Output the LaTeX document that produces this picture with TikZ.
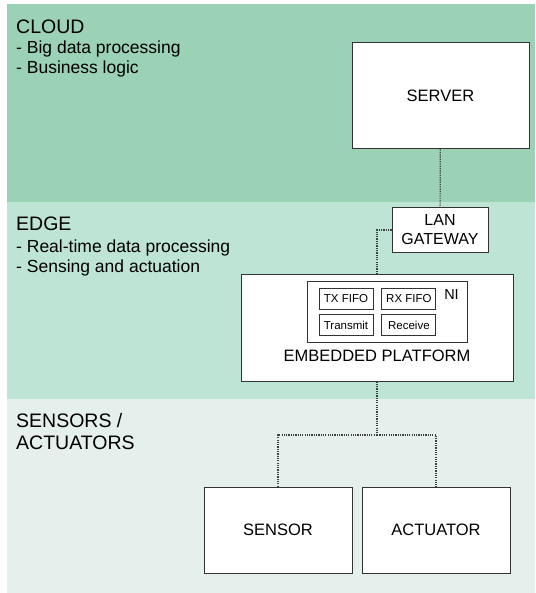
\documentclass[tikz,border=0pt]{standalone}
\usepackage{fontspec}
\setmainfont{Liberation Sans}
\usepackage{xcolor}
\usepackage{tikz}
\usetikzlibrary{positioning}

\definecolor{cloudgreen}{RGB}{155,209,181}
\definecolor{edgegreen}{RGB}{189,228,213}
\definecolor{sensorgreen}{RGB}{229,239,236}

\begin{document}
\begin{tikzpicture}[
  x=1pt, y=-1pt,
  box/.style={draw=black!80, line width=1pt, fill=white, inner sep=0pt, align=center, font=\fontsize{16.5}{19}\selectfont},
  smallbox/.style={draw=black!80, line width=0.9pt, fill=white, inner sep=0pt, minimum width=54pt, minimum height=21pt, font=\fontsize{11.5}{13}\selectfont},
  title/.style={anchor=base west, inner sep=0pt, align=left, font=\fontsize{19.5}{22}\selectfont},
  items/.style={anchor=base west, inner sep=0pt, align=left, font=\fontsize{17.5}{20}\selectfont},
  link/.style={draw=black!75, line width=1.2pt, dash pattern=on 1.2pt off 1.1pt}
]
\useasboundingbox (0,0) rectangle (535,593);

% layers
\fill[cloudgreen] (7,4) rectangle (535,202);
\fill[edgegreen] (7,202) rectangle (535,399);
\fill[sensorgreen] (7,399) rectangle (535,593);

% base of a multi-line node sits on its last line
\node[title] (cloudtitle) at (16,33.5) {CLOUD};
\node[items] (clouditems) at (16,74) {- Big data processing\\- Business logic};
\node[title] (edgetitle) at (16,230) {EDGE};
\node[items] (edgeitems) at (16,272) {- Real-time data processing\\- Sensing and actuation};
\node[title] (sensortitle) at (16,449) {SENSORS /\\ACTUATORS};

% devices
\node[box, minimum width=177pt, minimum height=106pt] (server) at (440.5,96) {SERVER};
\node[box, minimum width=96pt, minimum height=44pt, font=\fontsize{16}{19}\selectfont] (gateway) at (440,230) {LAN\\GATEWAY};
\node[box, minimum width=272pt, minimum height=107pt] (platform) at (377,327.5) {};
\node[anchor=base, inner sep=0pt, font=\fontsize{16.5}{19}\selectfont] (platformname) at (377,361.5) {EMBEDDED PLATFORM};
\node[box, minimum width=160pt, minimum height=61pt] (ni) at (387,311.5) {};
\node[anchor=base, inner sep=0pt, font=\fontsize{14.5}{17}\selectfont] (niname) at (451.5,299.5) {NI};
\node[smallbox] (txfifo) at (346,298.5) {TX FIFO};
\node[smallbox, right=8pt of txfifo] (rxfifo) {RX FIFO};
\node[smallbox, below=5pt of txfifo] (transmit) {Transmit};
\node[smallbox, below=5pt of rxfifo] (receive) {Receive};
\node[box, minimum width=148pt, minimum height=86pt] (sensor) at (278,530) {SENSOR};
\node[box, minimum width=148pt, minimum height=86pt, right=9pt of sensor] (actuator) {ACTUATOR};

% links
\coordinate (split) at (377,435);
\draw[link] (server) -- (gateway);
\draw[link] (gateway.west) -| (platform.north);
\draw[link] (platform.south) -- (split);
\draw[link] (split) -| (sensor.north);
\draw[link] (split) -| (actuator.north);
\end{tikzpicture}
\end{document}
